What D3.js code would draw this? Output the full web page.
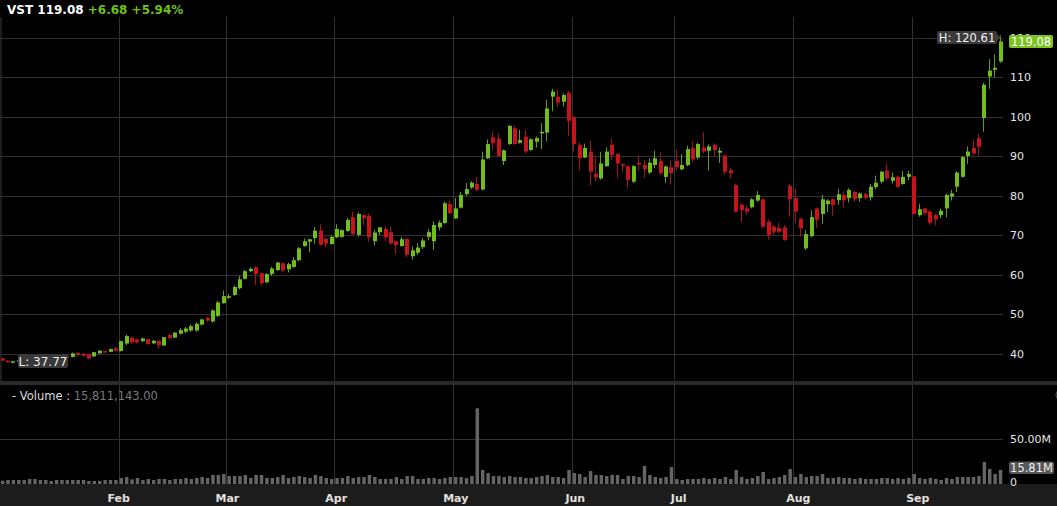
<!DOCTYPE html>
<html><head><meta charset="utf-8">
<script src="https://cdn.jsdelivr.net/npm/d3@7"></script>
<style>
html,body{margin:0;padding:0;background:#000;}
svg{display:block;}
text{font-family:"DejaVu Sans",Verdana,sans-serif;}
</style></head>
<body>
<svg id="c" width="1057" height="506"></svg>
<script>
// ---------- DATA ----------
const ticker = "VST";
const lastClose = 119.08, change = 6.68, changePct = 5.94;
const highLabel = "H: 120.61", lowLabel = "L: 37.77";
const volumeText = "15,811,143.00", lastVolLabel = "15.81M";

const open = [38.8,38.25,37.9,38.1,38.4,38.2,38.6,38.9,38.7,39.1,39.3,39.1,39.4,39.2,40.2,40.0,39.9,39.35,40.1,40.7,
40.5,41.4,40.7,42.6,44.1,43.6,43.2,43.7,42.65,43.3,42.1,44.8,44.1,45.1,45.6,45.9,45.9,47.4,49.1,48.2,
49.6,52.8,54.2,54.9,56.6,59.0,60.9,61.9,60.4,58.1,60.2,61.2,62.9,61.4,62.0,63.7,67.3,68.4,69.3,71.2,
69.1,67.8,69.5,69.6,71.1,74.6,70.1,75.1,74.9,68.5,70.8,71.6,70.8,68.5,67.3,69.1,64.7,65.6,67.0,69.6,
68.5,72.0,73.1,77.9,74.3,77.0,80.4,82.1,83.0,81.6,89.5,94.8,94.5,88.8,93.1,97.1,93.4,95.0,91.6,93.7,
95.8,96.0,105.1,105.1,103.8,106.1,99.9,92.9,89.7,91.2,85.5,84.4,87.5,92.9,90.6,88.0,87.5,83.6,88.4,87.8,
85.9,87.8,88.8,84.8,87.2,88.8,86.7,87.8,92.1,89.7,92.2,91.4,92.9,90.9,90.2,86.5,82.7,77.7,76.8,77.1,
78.8,79.1,73.4,72.2,71.9,72.0,82.5,79.4,74.2,66.7,69.8,76.8,75.4,77.9,79.1,78.9,80.2,79.4,81.0,79.4,
80.4,79.6,82.2,83.6,86.4,83.8,84.8,83.0,84.8,84.9,75.1,76.8,76.0,75.1,75.1,76.8,79.8,82.3,84.8,90.1,
92.1,94.6,99.7,110.2,111.9,114.0];
const high = [39.0,38.4,38.2,38.6,38.7,38.8,39.1,39.2,39.3,39.5,39.5,39.6,39.6,40.3,40.4,40.2,40.0,40.5,40.9,40.8,
41.3,41.8,43.3,44.9,44.4,43.9,44.1,43.8,43.5,43.4,44.3,45.0,45.5,46.5,46.8,47.4,48.0,48.9,49.4,51.2,
53.4,56.0,55.1,57.3,59.7,61.2,61.9,62.2,60.6,60.4,62.0,63.3,63.2,63.1,64.5,67.0,69.2,69.1,72.1,72.8,
69.4,69.9,72.8,71.5,74.4,75.9,75.8,75.1,75.5,71.4,72.0,72.3,72.2,68.5,69.6,69.3,67.1,68.0,69.3,71.6,
73.5,73.7,78.5,78.7,79.4,81.0,83.2,83.7,84.8,91.2,94.3,96.3,95.9,91.7,97.9,97.7,96.7,96.7,94.6,95.0,
98.4,104.3,107.1,106.9,105.9,106.6,100.2,93.5,93.2,93.9,89.7,91.1,92.3,94.6,90.8,88.3,87.8,87.8,90.1,88.9,
89.5,91.4,91.0,87.7,88.9,91.7,90.5,92.7,93.8,93.4,96.1,93.0,93.3,92.2,90.5,87.1,83.0,78.1,77.6,79.4,
81.2,79.4,74.0,72.6,73.1,72.6,83.0,81.9,74.5,71.3,76.3,77.1,80.2,79.1,79.4,81.8,81.1,81.9,81.3,80.8,
80.8,83.0,85.1,86.4,88.2,85.9,85.1,86.3,86.3,85.0,78.0,77.0,76.4,75.5,76.8,80.6,81.5,86.2,90.1,92.5,
94.2,95.6,108.6,114.6,115.8,120.61];
const low = [38.2,37.8,37.77,37.9,38.0,38.0,38.4,38.5,38.5,38.9,38.9,38.9,39.0,39.1,39.4,39.4,38.6,39.2,40.0,40.2,
40.4,40.6,40.6,42.2,42.5,42.6,43.0,42.4,42.5,41.4,42.0,43.6,44.0,44.9,45.3,45.6,45.6,47.2,48.1,47.9,
49.3,52.7,53.9,54.7,56.3,58.8,60.7,57.4,57.2,57.9,59.7,61.0,60.6,60.6,61.8,63.4,67.1,65.7,67.9,67.4,
67.1,67.6,69.3,69.4,70.9,70.1,69.7,72.6,68.4,67.4,70.1,68.6,67.7,65.1,67.1,64.5,63.8,65.0,66.5,68.8,
66.3,71.2,72.9,75.4,74.1,76.8,80.0,81.7,81.1,81.4,89.3,91.8,89.9,87.8,92.9,92.9,93.2,90.8,91.4,92.2,
91.8,93.8,101.4,102.4,102.6,95.1,91.3,86.5,89.5,82.7,83.8,84.1,87.3,89.0,84.5,85.9,82.1,83.2,86.3,84.5,
85.5,87.0,85.3,83.3,82.9,86.4,86.5,87.5,88.6,89.2,90.8,86.4,90.1,88.3,85.4,84.4,75.8,73.5,75.2,76.8,
78.5,71.8,68.9,70.1,70.5,68.6,74.7,73.0,69.7,66.3,69.5,71.9,72.9,75.9,75.0,77.7,77.0,78.3,78.5,78.5,
79.1,78.8,81.7,83.2,83.9,83.1,82.1,82.8,84.0,75.2,74.7,75.2,72.7,72.5,74.3,74.5,78.8,81.0,84.6,88.1,
90.3,90.1,96.2,107.1,110.0,113.7];
const close = [38.3,37.9,38.1,38.4,38.2,38.6,38.9,38.7,39.1,39.3,39.1,39.4,39.3,40.1,39.7,39.5,38.8,40.4,40.8,40.3,
41.2,40.8,43.2,44.5,42.9,42.9,43.9,42.5,43.3,42.2,44.2,44.0,45.35,46.0,46.4,47.0,47.6,48.7,48.4,51.0,
53.0,54.6,54.6,56.9,58.85,60.9,61.5,60.2,57.9,60.2,61.6,63.1,61.1,62.7,63.7,66.7,68.5,69.0,71.2,67.6,
67.9,69.6,71.6,71.3,73.9,70.3,75.4,74.3,69.5,70.7,72.0,69.5,67.9,67.5,69.0,65.1,66.2,66.9,68.7,70.8,
72.6,73.2,78.1,75.6,76.8,80.2,81.7,83.3,81.5,89.2,93.1,93.3,90.1,91.5,97.7,93.1,94.1,91.2,94.3,94.6,
96.2,102.1,106.4,103.6,105.5,99.0,93.1,89.5,92.1,86.1,84.7,88.2,91.2,90.3,88.2,87.6,84.0,87.5,87.9,86.7,
88.4,89.5,85.7,87.4,85.7,87.2,87.8,91.8,89.2,93.1,91.2,92.5,91.6,91.4,86.1,85.7,76.0,76.4,76.0,79.1,
80.2,72.2,70.1,70.9,70.9,68.8,79.1,76.0,71.8,70.3,74.6,73.9,79.1,78.8,77.7,80.4,78.9,81.5,79.1,80.6,
79.5,82.3,83.3,86.1,84.4,84.7,82.3,84.8,85.5,75.4,76.6,75.6,73.2,74.0,76.2,80.2,80.6,85.9,89.8,91.2,
90.7,92.4,108.1,111.7,112.4,119.08];
// volume in millions
const volume = [3.7,4.5,4.5,4.5,4.5,5.6,5.6,4.5,4.5,3.4,4.5,4.5,4.5,4.5,4.5,4.5,3.4,3.4,3.4,4.5,
4.5,4.5,6.7,7.8,5.2,6.7,4.5,5.6,4.5,5.6,5.6,4.5,5.6,5.6,6.7,5.6,6.7,7.8,6.7,10.1,
10.1,11.2,8.9,8.9,8.9,10.1,6.7,10.1,10.1,6.7,6.7,7.8,10.1,6.7,7.8,8.9,7.8,6.7,10.1,8.9,
6.7,5.6,6.7,6.7,8.9,6.7,7.8,7.8,10.1,7.8,5.6,5.6,5.6,7.8,5.6,8.9,8.9,5.6,5.6,6.7,
6.7,5.6,6.7,7.8,7.8,7.8,6.7,8.9,84.7,15.7,12.3,8.9,8.9,7.8,8.9,7.8,7.8,6.7,6.7,7.8,
8.9,10.1,7.8,7.8,6.7,15.7,12.3,11.2,7.8,14.5,10.1,10.1,8.9,10.1,10.1,5.6,8.9,8.9,7.8,20.1,
10.1,7.8,6.7,7.8,19.0,5.6,4.5,5.6,5.6,5.6,6.7,5.6,6.7,5.6,7.8,5.6,15.7,7.8,5.6,6.7,
8.9,13.4,5.6,6.7,7.8,10.1,16.8,7.8,11.2,7.8,8.9,8.9,11.2,6.7,6.7,7.8,6.7,6.7,5.6,6.7,
5.6,5.6,5.6,6.7,6.7,5.6,6.7,5.6,6.7,11.2,6.7,5.6,6.7,5.6,4.5,6.7,5.6,7.8,7.8,7.8,
7.8,8.9,24.6,16.8,11.2,15.81];
const monthLabels = ["Feb","Mar","Apr","May","Jun","Jul","Aug","Sep"];
const monthStartIdx = [22,42,62,84,106,125,147,169];
const priceTicks = [40,50,60,70,80,90,100,110,120];
const volTicks = [50];

// ---------- LAYOUT ----------
const W = 1057, H = 506;
const plotRight = 1003;
const priceTop = 17, priceBottom = 381;
const volTop = 385, volBottom = 484;
const GREEN = "#72bd1e", GREEN_WICK = "#5f9f1a", RED = "#c5141c", RED_WICK = "#a51218";
const GRID = "#313131";

const svg = d3.select("#c");
svg.append("rect").attr("width", W).attr("height", H).attr("fill", "#000");

const n = close.length;
const idx = d3.range(n);
const x = d3.scaleLinear().domain([0, n - 1]).range([2.63, 2.63 + (n - 1) * 5.394]);
const step = x(1) - x(0);
const yP = d3.scaleLinear().domain([40, 120]).range([353.8, 37.8]);
const yV = d3.scaleLinear().domain([0, 50]).range([volBottom, 439.3]);

// bottom axis band and separator
svg.append("rect").attr("x", 0).attr("y", volBottom).attr("width", W).attr("height", H - volBottom).attr("fill", "#1c1c1c");
svg.append("rect").attr("x", 0).attr("y", priceBottom).attr("width", W).attr("height", volTop - priceBottom).attr("fill", "#2a2a2a");
svg.append("rect").attr("x", 0).attr("y", priceTop).attr("width", 2).attr("height", priceBottom - priceTop).attr("fill", "#1e1e1e");

// vertical grid (month boundaries)
const gx = monthStartIdx.map(i => Math.round(x(i) - step / 2) + 0.5);
svg.append("g").selectAll("line").data(gx).join("line")
  .attr("x1", d => d).attr("x2", d => d)
  .attr("y1", priceTop).attr("y2", priceBottom)
  .attr("stroke", GRID).attr("stroke-width", 1);
svg.append("g").selectAll("line").data(gx).join("line")
  .attr("x1", d => d).attr("x2", d => d)
  .attr("y1", volTop).attr("y2", volBottom)
  .attr("stroke", GRID).attr("stroke-width", 1);

// horizontal price grid
svg.append("g").selectAll("line").data(priceTicks).join("line")
  .attr("x1", 0).attr("x2", plotRight)
  .attr("y1", d => Math.round(yP(d)) + 0.5).attr("y2", d => Math.round(yP(d)) + 0.5)
  .attr("stroke", GRID);
// volume grid
svg.append("g").selectAll("line").data(volTicks).join("line")
  .attr("x1", 0).attr("x2", plotRight)
  .attr("y1", d => Math.round(yV(d)) + 0.5).attr("y2", d => Math.round(yV(d)) + 0.5)
  .attr("stroke", GRID);

// price axis (the 120 label sits behind the last-price badge, as in the original)
const pAxis = svg.append("g").attr("transform", `translate(${plotRight},0)`)
  .call(d3.axisRight(yP).tickValues(priceTicks).tickSize(0).tickPadding(7).tickFormat(d3.format("d")));
pAxis.select(".domain").remove();
pAxis.selectAll("text").attr("fill", "#e6e6e6").attr("font-size", 11).attr("font-family", "DejaVu Sans");

// volume axis
const vAxis = svg.append("g").attr("transform", `translate(${plotRight},0)`)
  .call(d3.axisRight(yV).tickValues([0, 50]).tickSize(0).tickPadding(7)
    .tickFormat(d => d === 0 ? "0" : d3.format(".2f")(d) + "M"));
vAxis.select(".domain").remove();
vAxis.selectAll("text").attr("fill", "#e6e6e6").attr("font-size", 11).attr("font-family", "DejaVu Sans");
vAxis.selectAll(".tick").filter(d => d === 0).select("text").attr("dy", "0.1em");

// volume bars
svg.append("g").selectAll("rect").data(idx).join("rect")
  .attr("x", i => x(i) - 1.75).attr("width", 3.5)
  .attr("y", i => yV(volume[i])).attr("height", i => volBottom - yV(volume[i]))
  .attr("fill", "#646464");

// candles
const cg = svg.append("g");
idx.forEach(i => {
  const up = close[i] >= open[i];
  const L = Math.round(x(i) - 2);
  cg.append("line")
    .attr("x1", L + 1.5).attr("x2", L + 1.5)
    .attr("y1", yP(high[i])).attr("y2", yP(low[i]))
    .attr("stroke", up ? GREEN_WICK : RED_WICK).attr("stroke-width", 1);
  const top = yP(Math.max(open[i], close[i]));
  const bot = yP(Math.min(open[i], close[i]));
  cg.append("rect").attr("x", L).attr("width", 4)
    .attr("y", top).attr("height", Math.max(1.5, bot - top))
    .attr("fill", up ? GREEN : RED);
});

// month labels
svg.append("g").selectAll("text").data(monthLabels).join("text")
  .attr("x", (d, k) => x(monthStartIdx[k]) - step / 2 + k * 0.9)
  .attr("y", 502).attr("text-anchor", "middle")
  .attr("fill", "#e0e0e0").attr("font-size", 11).attr("font-weight", "bold")
  .text(d => d);

// title
const t = svg.append("text").attr("x", 7).attr("y", 14).attr("font-size", 12).attr("font-weight", "bold");
t.append("tspan").attr("fill", "#ffffff").text(`${ticker} ${lastClose.toFixed(2)} `);
t.append("tspan").attr("fill", "#6fbf1f").text(`+${change.toFixed(2)} +${changePct.toFixed(2)}%`);

// volume legend
const vl = svg.append("text").attr("x", 12).attr("y", 400).attr("font-size", 11.5);
vl.append("tspan").attr("fill", "#dcdcdc").text("- Volume : ");
vl.append("tspan").attr("fill", "#7a7a7a").text(volumeText);

// partial icon top right of volume panel
svg.append("circle").attr("cx", 1062).attr("cy", 395).attr("r", 6).attr("fill", "none").attr("stroke", "#555");

// high label
const hg = svg.append("g");
hg.append("rect").attr("x", 937).attr("y", 31).attr("width", 60).attr("height", 13).attr("rx", 2).attr("fill", "#3b3b3b");
hg.append("path").attr("d", "M997,34 L1001,37.5 L997,41 Z").attr("fill", "#3b3b3b");
hg.append("text").attr("x", 967).attr("y", 41.5).attr("text-anchor", "middle").attr("fill", "#f0f0f0").attr("font-size", 11.5).text(highLabel);

// last price badge
svg.append("rect").attr("x", 1009).attr("y", 35).attr("width", 44).attr("height", 13).attr("rx", 2).attr("fill", "#7cc520");
svg.append("text").attr("x", 1031).attr("y", 45.5).attr("text-anchor", "middle").attr("fill", "#ffffff").attr("font-size", 11.5).text(lastClose.toFixed(2));

// low label
svg.append("rect").attr("x", 18).attr("y", 354).attr("width", 50).attr("height", 14).attr("rx", 2).attr("fill", "#383838");
svg.append("text").attr("x", 43).attr("y", 365.5).attr("text-anchor", "middle").attr("fill", "#f0f0f0").attr("font-size", 12).text(lowLabel);

// last volume badge
svg.append("rect").attr("x", 1009).attr("y", 461.5).attr("width", 45).attr("height", 12.5).attr("rx", 2).attr("fill", "#575757");
svg.append("text").attr("x", 1031.5).attr("y", 471.5).attr("text-anchor", "middle").attr("fill", "#f0f0f0").attr("font-size", 11.5).text(lastVolLabel);
</script>
</body></html>
